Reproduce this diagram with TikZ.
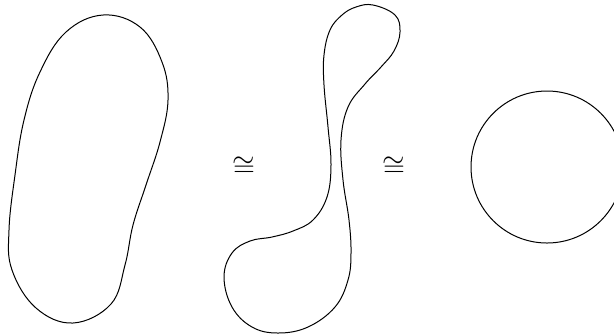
\documentclass[tikz,border=0pt]{standalone}
\usepackage{tikz}
\usetikzlibrary{positioning}

\begin{document}
\begin{tikzpicture}[
  x=0.5pt, y=-0.5pt,
  curve/.style={draw, line width=0.5pt, smooth cycle, tension=0.65},
  iso/.style={font=\Large, inner sep=0pt}
]
\useasboundingbox (0,0) rectangle (614,334);

% blob
\draw[curve] plot coordinates {(103,15) (140,27) (162,62) (168,100) (160,142) (146,185)
  (133,225) (125,265) (111,304) (73,323) (36,308) (12,270) (9,230) (15,175) (24,120)
  (40,72) (66,32)};

% spoon
\draw[curve] plot coordinates {(373,5) (395,15) (400,32) (394,51) (381,67) (365,84)
  (348,107) (341,140) (343,180) (349,220) (351,253) (348,280) (335,307) (308,327)
  (278,333) (252,327) (232,307) (224,277) (232,253) (250,241) (272,237) (293,231)
  (313,220) (327,197) (331,165) (328,127) (324,85) (324,55) (330,30) (342,15) (356,7)};

% circle
\draw[line width=0.5pt] (547,167) circle[radius=76];

\node[iso] (iso1) at (244,167) {$\cong$};
\node[iso] (iso2) at (394,167) {$\cong$};

\end{tikzpicture}
\end{document}
